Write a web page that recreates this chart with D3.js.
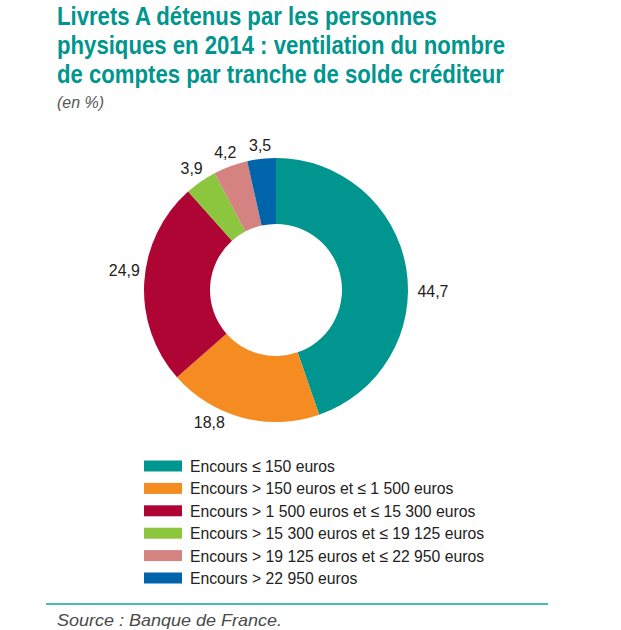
<!DOCTYPE html>
<html><head><meta charset="utf-8">
<script src="https://cdn.jsdelivr.net/npm/d3@7"></script>
<style>
html,body{margin:0;padding:0;background:#fff;}
svg{display:block;}
</style></head>
<body>
<svg id="chart" width="621" height="630"></svg>
<script>
const titleLines = ["Livrets A détenus par les personnes",
  "physiques en 2014 : ventilation du nombre",
  "de comptes par tranche de solde créditeur"];
const subtitle = "(en %)";
const categories = ["Encours ≤ 150 euros",
  "Encours > 150 euros et ≤ 1 500 euros",
  "Encours > 1 500 euros et ≤ 15 300 euros",
  "Encours > 15 300 euros et ≤ 19 125 euros",
  "Encours > 19 125 euros et ≤ 22 950 euros",
  "Encours > 22 950 euros"];
const values = [44.7, 18.8, 24.9, 3.9, 4.2, 3.5];
const colors = ["#00968F", "#F58C22", "#AF0535", "#8CC63F", "#D48380", "#0064AA"];
const sourceText = "Source : Banque de France.";

const svg = d3.select("#chart");
const sans = "'Liberation Sans',Arial,Helvetica,sans-serif";

// condense a group of texts horizontally by a common factor so that the widest reaches target
function condense(sel, targetWidest) {
  let maxW = 0;
  sel.each(function(){ maxW = Math.max(maxW, this.getComputedTextLength()); });
  const k = targetWidest / maxW;
  sel.each(function(){
    const w = this.getComputedTextLength();
    d3.select(this).attr("textLength", w*k).attr("lengthAdjust", "spacingAndGlyphs");
  });
}

// Title
const tt = svg.append("g").selectAll("text").data(titleLines).join("text")
  .attr("x", 57).attr("y", (d,i) => 24.5 + i*29)
  .attr("font-family", sans).attr("font-weight", "bold")
  .attr("font-size", 26.5).attr("fill", "#00958E")
  .text(d => d);
condense(tt, 448);
const st = svg.append("text").attr("x", 57).attr("y", 108)
  .attr("font-family", sans).attr("font-style", "italic")
  .attr("font-size", 16).attr("fill", "#555").text(subtitle);
condense(st, 47);

// Donut
const cx = 276, cy = 290, R = 132, r = 66;
const pie = d3.pie().sort(null).value(d => d.v);
const arcs = pie(values.map((v,i) => ({v, i})));
const arc = d3.arc().innerRadius(r).outerRadius(R);
const g = svg.append("g").attr("transform", `translate(${cx},${cy})`);
g.selectAll("path").data(arcs).join("path")
  .attr("d", arc).attr("fill", d => colors[d.data.i]);

// Labels: mid-angle, with small layout nudges for the big slices
const angleNudge = [10, 12, 4, 0, 0, 0];
const radius = [157, 148, 153, 148, 147, 145];
const fmt = v => String(v).replace(".", ",");
const lbl = g.selectAll("text.lbl").data(arcs).join("text").attr("class","lbl")
  .each(function(d){
    const a = (d.startAngle + d.endAngle)/2 + angleNudge[d.data.i]*Math.PI/180;
    const rr = radius[d.data.i];
    d3.select(this).attr("x", rr*Math.sin(a)).attr("y", -rr*Math.cos(a));
  })
  .attr("text-anchor","middle").attr("dominant-baseline","central")
  .attr("font-family", sans).attr("font-size", 17).attr("fill","#222")
  .text(d => fmt(d.data.v));
condense(lbl, 31);

// Legend
const leg = svg.append("g");
const rows = leg.selectAll("g").data(categories).join("g")
  .attr("transform", (d,i) => `translate(144,${466 + i*22.4})`);
rows.append("rect").attr("x",0).attr("y",-5.5).attr("width",38).attr("height",11)
  .attr("fill",(d,i)=>colors[i]);
const lt = rows.append("text").attr("x",46).attr("y",0).attr("dominant-baseline","central")
  .attr("font-family", sans).attr("font-size",16.5).attr("fill","#222")
  .text(d=>d);
condense(lt, 294);

// Source
svg.append("line").attr("x1",46).attr("x2",548).attr("y1",604).attr("y2",604)
  .attr("stroke","#13A29A").attr("stroke-width",1.5);
const sc = svg.append("text").attr("x",57).attr("y",626)
  .attr("font-family", sans).attr("font-style","italic")
  .attr("font-size",17).attr("fill","#4a4a4a").text(sourceText);
condense(sc, 225);
</script>
</body></html>
